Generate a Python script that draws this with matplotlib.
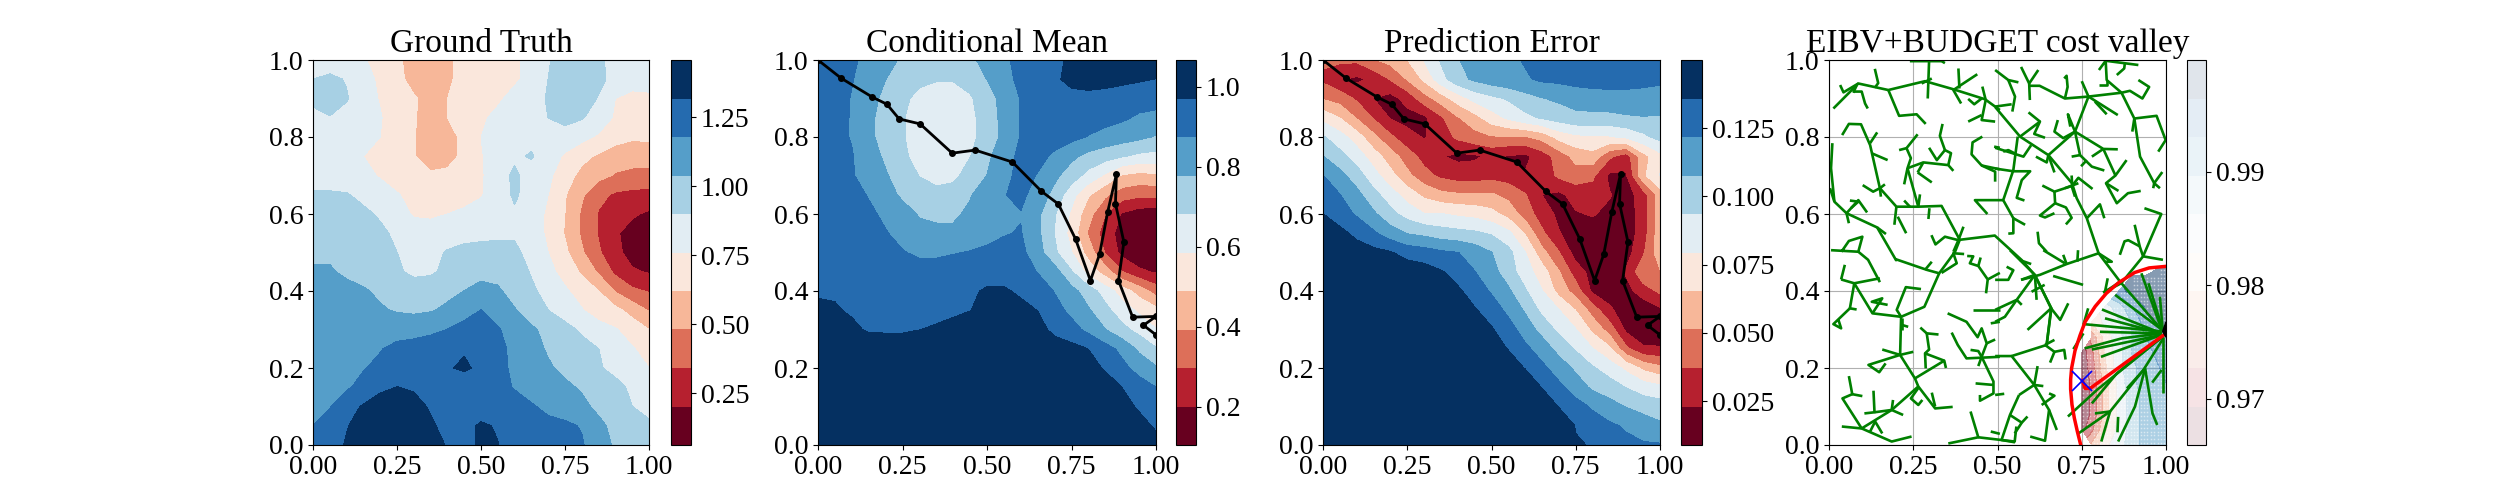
import numpy as np
import matplotlib
matplotlib.use("Agg")
import matplotlib.pyplot as plt

plt.rcParams["font.family"] = ["Liberation Serif", "DejaVu Serif"]
plt.rcParams["font.size"] = 20

# grid for the three fields, rows run from y=1.0 down to y=0.0
grid_x = np.linspace(0, 1, 21)
grid_y = np.linspace(1, 0, 21)

truth = np.array([
    [.82,.82,.81,.77,.72,.64,.58,.56,.60,.66,.68,.70,.74,.80,.89,.95,.96,.92,.86,.84,.84],
    [.90,.93,.89,.80,.74,.67,.56,.55,.60,.66,.69,.71,.74,.80,.90,.97,.98,.93,.86,.82,.80],
    [.93,.99,.91,.82,.75,.68,.64,.56,.62,.68,.70,.74,.80,.85,.91,.98,.97,.89,.76,.72,.74],
    [.86,.89,.85,.80,.77,.68,.63,.57,.62,.68,.74,.79,.83,.87,.90,.94,.91,.84,.74,.70,.70],
    [.84,.84,.83,.80,.76,.68,.63,.54,.56,.66,.76,.81,.87,.87,.85,.84,.80,.74,.68,.64,.64],
    [.83,.83,.81,.76,.72,.66,.63,.53,.56,.66,.75,.82,.88,.91,.83,.74,.66,.60,.54,.53,.56],
    [.82,.82,.81,.79,.75,.70,.67,.65,.66,.68,.74,.85,.92,.85,.79,.68,.58,.52,.47,.45,.43],
    [.92,.92,.91,.86,.81,.77,.72,.69,.69,.70,.75,.83,.92,.84,.76,.63,.50,.38,.32,.30,.30],
    [.96,.96,.95,.93,.88,.83,.74,.73,.76,.79,.81,.84,.88,.82,.74,.62,.46,.33,.28,.22,.18],
    [1.0,1.0,.99,.97,.93,.87,.85,.84,.84,.85,.86,.87,.88,.82,.74,.61,.46,.33,.22,.15,.13],
    [1.02,1.02,1.01,.99,.96,.90,.85,.86,.91,.94,.95,.95,.93,.85,.76,.65,.50,.36,.24,.15,.13],
    [1.05,1.05,1.02,1.0,.97,.92,.87,.88,.93,.97,1.0,.99,.96,.89,.80,.71,.60,.46,.31,.22,.19],
    [1.09,1.09,1.07,1.05,1.02,.98,.97,.98,1.01,1.04,1.08,1.06,.98,.92,.86,.78,.70,.62,.47,.37,.33],
    [1.13,1.13,1.11,1.09,1.05,1.03,1.02,1.03,1.06,1.13,1.18,1.12,1.05,.97,.90,.84,.77,.69,.66,.57,.47],
    [1.15,1.15,1.14,1.13,1.12,1.11,1.11,1.14,1.18,1.22,1.23,1.19,1.12,1.06,1.0,.94,.88,.82,.77,.70,.62],
    [1.15,1.15,1.15,1.14,1.17,1.22,1.25,1.27,1.29,1.31,1.27,1.22,1.14,1.10,1.02,.97,.94,.90,.84,.77,.71],
    [1.12,1.13,1.14,1.17,1.21,1.25,1.28,1.29,1.31,1.33,1.30,1.22,1.15,1.10,1.06,1.0,.95,.91,.87,.82,.76],
    [1.09,1.14,1.16,1.22,1.29,1.32,1.30,1.28,1.26,1.26,1.25,1.22,1.17,1.13,1.10,1.07,1.02,.98,.93,.88,.87],
    [1.13,1.17,1.27,1.33,1.38,1.40,1.37,1.30,1.26,1.26,1.27,1.25,1.23,1.19,1.15,1.12,1.08,1.0,.96,.90,.88],
    [1.18,1.23,1.31,1.37,1.41,1.42,1.39,1.34,1.27,1.29,1.33,1.31,1.26,1.23,1.21,1.20,1.17,1.08,.99,.91,.91],
    [1.22,1.26,1.33,1.38,1.42,1.43,1.40,1.36,1.31,1.29,1.33,1.32,1.28,1.26,1.24,1.22,1.19,1.10,1.02,.97,.96],
])

cond_mean = np.array([
    [.94,.93,.89,.85,.80,.77,.74,.72,.73,.76,.81,.86,.90,.93,.96,.98,1.0,1.0,1.0,1.0,1.0],
    [.92,.92,.88,.83,.78,.73,.70,.69,.69,.72,.78,.84,.90,.93,.96,.99,1.0,1.0,.99,.98,.97],
    [.91,.91,.87,.82,.75,.70,.66,.63,.63,.67,.74,.81,.88,.92,.93,.95,.95,.94,.93,.92,.91],
    [.90,.90,.87,.80,.74,.69,.64,.61,.61,.65,.74,.80,.88,.92,.93,.93,.92,.91,.89,.86,.85],
    [.90,.90,.87,.80,.74,.69,.64,.60,.61,.65,.73,.80,.88,.91,.91,.90,.87,.84,.82,.80,.77],
    [.90,.90,.88,.83,.76,.70,.65,.62,.63,.68,.76,.83,.90,.90,.86,.80,.75,.72,.69,.66,.65],
    [.91,.91,.88,.85,.79,.72,.68,.65,.66,.72,.78,.84,.91,.87,.80,.73,.65,.57,.48,.46,.47],
    [.92,.92,.90,.87,.82,.76,.72,.71,.72,.77,.84,.87,.90,.83,.75,.62,.50,.41,.34,.32,.32],
    [.93,.93,.92,.89,.86,.82,.77,.76,.76,.80,.85,.87,.87,.80,.69,.57,.43,.30,.19,.15,.14],
    [.94,.94,.93,.91,.88,.85,.81,.80,.80,.82,.85,.87,.88,.80,.68,.55,.38,.25,.16,.12,.12],
    [.95,.95,.94,.92,.90,.88,.86,.86,.87,.88,.89,.90,.90,.82,.70,.59,.45,.29,.17,.13,.13],
    [.96,.96,.95,.94,.93,.92,.91,.91,.92,.93,.94,.94,.93,.87,.82,.69,.55,.44,.30,.22,.19],
    [.96,.96,.96,.95,.94,.94,.93,.93,.94,.96,.98,.98,.96,.93,.87,.81,.73,.64,.54,.45,.35],
    [.99,.98,.96,.95,.95,.95,.95,.95,.96,.97,.99,1.0,.99,.97,.91,.85,.79,.71,.63,.57,.52],
    [1.03,1.02,.99,.96,.96,.96,.97,.98,.99,1.0,1.01,1.02,1.01,1.0,.95,.91,.85,.78,.71,.65,.59],
    [1.06,1.05,1.04,1.03,1.02,1.02,1.02,1.03,1.04,1.04,1.05,1.05,1.05,1.04,1.01,1.0,.97,.91,.85,.76,.69],
    [1.06,1.06,1.06,1.05,1.05,1.05,1.05,1.05,1.05,1.06,1.06,1.06,1.06,1.05,1.04,1.03,1.01,.96,.90,.84,.79],
    [1.06,1.06,1.06,1.06,1.06,1.06,1.06,1.06,1.06,1.06,1.06,1.06,1.06,1.06,1.05,1.05,1.04,1.02,.97,.92,.875],
    [1.06,1.06,1.06,1.06,1.06,1.06,1.06,1.06,1.06,1.06,1.06,1.06,1.06,1.06,1.06,1.06,1.05,1.04,1.0,.96,.91],
    [1.06,1.06,1.06,1.06,1.06,1.06,1.06,1.06,1.06,1.06,1.06,1.06,1.06,1.06,1.06,1.06,1.06,1.05,1.04,1.0,.96],
    [1.06,1.06,1.06,1.06,1.06,1.06,1.06,1.06,1.06,1.06,1.06,1.06,1.06,1.06,1.06,1.06,1.06,1.06,1.05,1.03,1.0],
])

pred_error = np.array([
    [.040,.040,.040,.050,.056,.065,.080,.095,.107,.112,.116,.118,.123,.127,.130,.130,.130,.130,.130,.130,.130],
    [.034,.025,.020,.026,.038,.052,.068,.088,.103,.110,.115,.118,.120,.124,.125,.127,.128,.128,.128,.127,.126],
    [.050,.045,.035,.023,.018,.028,.045,.058,.072,.084,.090,.095,.102,.107,.110,.113,.115,.116,.116,.115,.112],
    [.075,.065,.050,.036,.022,.018,.020,.035,.050,.060,.073,.082,.090,.095,.100,.104,.104,.104,.106,.107,.107],
    [.095,.085,.072,.055,.040,.028,.022,.030,.040,.046,.050,.050,.050,.056,.070,.076,.078,.078,.082,.090,.098],
    [.108,.098,.087,.072,.058,.044,.032,.024,.020,.021,.026,.022,.020,.030,.043,.056,.060,.040,.030,.060,.075],
    [.122,.112,.100,.085,.070,.055,.042,.034,.030,.030,.032,.030,.024,.028,.040,.045,.040,.020,.022,.062,.080],
    [.130,.122,.112,.098,.086,.073,.062,.055,.053,.053,.053,.047,.038,.023,.020,.028,.030,.024,.017,.030,.058],
    [.136,.128,.120,.110,.098,.088,.080,.080,.077,.075,.070,.060,.045,.030,.020,.022,.024,.020,.015,.030,.058],
    [.145,.140,.132,.124,.114,.107,.104,.100,.098,.096,.092,.083,.064,.040,.024,.015,.018,.017,.015,.030,.060],
    [.147,.147,.143,.140,.137,.130,.128,.124,.122,.116,.108,.098,.080,.056,.038,.017,.015,.015,.017,.035,.060],
    [.149,.149,.149,.148,.148,.145,.142,.137,.130,.122,.113,.100,.086,.072,.052,.030,.018,.015,.025,.048,.050],
    [.149,.149,.149,.149,.149,.148,.147,.143,.138,.130,.120,.110,.095,.080,.060,.045,.020,.016,.018,.030,.040],
    [.149,.149,.149,.149,.149,.149,.149,.148,.144,.137,.130,.118,.106,.090,.080,.065,.045,.026,.015,.013,.020],
    [.149,.149,.149,.149,.149,.149,.149,.149,.149,.145,.137,.128,.115,.103,.090,.080,.062,.045,.020,.010,.010],
    [.149,.149,.149,.149,.149,.149,.149,.149,.149,.149,.144,.135,.125,.115,.103,.092,.080,.068,.040,.026,.025],
    [.149,.149,.149,.149,.149,.149,.149,.149,.149,.149,.149,.145,.135,.125,.115,.105,.095,.087,.076,.062,.055],
    [.149,.149,.149,.149,.149,.149,.149,.149,.149,.149,.149,.149,.149,.135,.125,.115,.105,.100,.093,.087,.083],
    [.149,.149,.149,.149,.149,.149,.149,.149,.149,.149,.149,.149,.149,.149,.135,.127,.120,.113,.107,.102,.100],
    [.149,.149,.149,.149,.149,.149,.149,.149,.149,.149,.149,.149,.149,.149,.148,.135,.128,.124,.120,.116,.110],
    [.149,.149,.149,.149,.149,.149,.149,.149,.149,.149,.149,.149,.149,.149,.149,.137,.135,.130,.125,.123,.123],
])

nan = np.nan
valley_x = [.75, .78, .82, .86, .90, .94, .98, 1.0]
valley_y = [0, .04, .08, .12, .16, .20, .24, .28, .32, .36, .40, .44, .46]
valley = np.array([
    [nan,.977,.982,.985,.988,.991,.992,.992],
    [.968,.972,.979,.984,.988,.991,.992,.993],
    [.967,.970,.978,.984,.988,.991,.992,.993],
    [.967,.970,.978,.984,.988,.991,.992,.993],
    [.967,.970,.978,.984,.989,.991,.992,.993],
    [.967,.971,.979,.985,.989,.991,.993,.994],
    [.967,.972,.980,.985,.990,.992,.994,.995],
    [nan,.974,.981,.985,.990,.993,.995,.996],
    [nan,.980,.984,.986,.990,.995,.997,.998],
    [nan,nan,.985,.988,.993,.997,.998,.999],
    [nan,nan,nan,.995,.998,.999,.999,.999],
    [nan,nan,nan,nan,.999,.999,.999,.999],
    [nan,nan,nan,nan,nan,nan,.999,.999],
])

path_x = [0, .068, .16, .204, .24, .302, .397, .465, .575, .661, .711, .762, .806, .833, .857, .883, .88, .905, .889, .931, 1.0, .963, 1.0]
path_y = [1, .953, .904, .885, .847, .834, .758, .766, .735, .659, .626, .535, .427, .495, .605, .704, .627, .527, .427, .332, .334, .311, .286]

budget_x = [.747, .737, .728, .721, .717, .717, .72, .73, .745, .76, .79, .823, .86, .907, .95, 1.0]
budget_y = [0, .035, .07, .105, .145, .17, .20, .245, .285, .32, .36, .394, .422, .448, .46, .464]
route_x = [1.0, .775, .76, .752]
route_y = [.29, .147, .147, .168]
target_x, target_y = .75, .165
now_x = [1.0, .99, 1.0]
now_y = [.32, .295, .28]

# tree branches, (x, y) along each one
tree = [
    [(.013,.874),(.087,.939),(.176,.922),(.285,.945),(.369,.924),(.463,.898),(.507,.870)],
    [(.493,.878),(.567,.801),(.651,.753),(.721,.680),(.735,.641),(.765,.589),(.80,.498),(.864,.424),(.992,.294)],
    [(.033,.935),(.043,.916),(.087,.939)],
    [(.072,.918),(.097,.918),(.107,.887),(.115,.874)],
    [(.082,.934),(.072,.915)],
    [(.136,.977),(.146,.94),(.136,.928)],
    [(.176,.922),(.208,.855),(.26,.859),(.287,.834)],
    [(.297,.997),(.293,.90)],
    [(.24,.997),(.334,.997),(.344,.992)],
    [(.275,.939),(.305,.952)],
    [(.384,.978),(.387,.926)],
    [(.44,.963),(.369,.922),(.392,.887)],
    [(.455,.931),(.465,.896),(.453,.844),(.493,.84)],
    [(.453,.857),(.413,.84)],
    [(.413,.899),(.431,.885),(.453,.90)],
    [(.493,.974),(.532,.948),(.562,.942)],
    [(.532,.948),(.552,.905),(.544,.866)],
    [(.493,.879),(.542,.885)],
    [(.039,.805),(.059,.834),(.095,.833),(.122,.779),(.151,.667),(.2,.619),(.265,.619),(.334,.621),(.388,.533),(.492,.544),(.571,.481),(.61,.442),(.66,.355),(.645,.256)],
    [(.122,.784),(.143,.812)],
    [(.126,.758),(.174,.74)],
    [(.10,.675),(.131,.658),(.151,.667),(.166,.677)],
    [(.151,.667),(.154,.645)],
    [(.223,.677),(.233,.719),(.243,.745),(.23,.771),(.208,.766)],
    [(.23,.771),(.263,.807)],
    [(.233,.719),(.28,.734),(.354,.727),(.369,.712)],
    [(.263,.708),(.28,.734)],
    [(.263,.708),(.305,.682)],
    [(.233,.719),(.265,.619)],
    [(.27,.651),(.265,.619)],
    [(.223,.635),(.24,.619)],
    [(.354,.727),(.362,.758),(.344,.766),(.32,.74),(.297,.772)],
    [(.344,.766),(.329,.803),(.337,.834)],
    [(.2,.619),(.194,.572)],
    [(.204,.593),(.229,.55)],
    [(.01,.784),(.006,.719),(.016,.632),(.052,.602),(.143,.565),(.199,.48),(.20,.482),(.29,.455),(.327,.446),(.374,.502),(.388,.533)],
    [(.003,.667),(.016,.632)],
    [(.052,.602),(.059,.576)],
    [(.052,.602),(.087,.636),(.113,.604)],
    [(.065,.615),(.087,.632),(.062,.635)],
    [(.143,.565),(.169,.548)],
    [(.298,.615),(.295,.587)],
    [(.006,.506),(.087,.502),(.099,.541),(.059,.53),(.037,.502)],
    [(.087,.502),(.116,.481),(.151,.423)],
    [(.075,.42),(.151,.433)],
    [(.036,.43),(.047,.468)],
    [(.036,.43),(.075,.42),(.129,.342),(.214,.333),(.283,.359),(.327,.446)],
    [(.285,.455),(.305,.476)],
    [(.334,.447),(.379,.472),(.369,.498),(.401,.496)],
    [(.214,.333),(.201,.351),(.228,.41),(.273,.405)],
    [(.214,.333),(.211,.234),(.158,.248)],
    [(.211,.234),(.117,.208),(.149,.189),(.168,.212)],
    [(.211,.234),(.25,.242)],
    [(.216,.312),(.235,.307)],
    [(.218,.33),(.218,.299)],
    [(.129,.342),(.158,.381),(.127,.372),(.174,.364)],
    [(.075,.42),(.062,.355),(.082,.352)],
    [(.062,.355),(.013,.314),(.036,.303),(.028,.325)],
    [(.211,.234),(.255,.173),(.265,.152),(.315,.095),(.367,.099)],
    [(.255,.173),(.342,.219),(.347,.2)],
    [(.287,.199),(.285,.238),(.342,.219)],
    [(.285,.238),(.297,.248),(.29,.29),(.325,.287)],
    [(.29,.29),(.271,.305)],
    [(.265,.152),(.186,.091),(.097,.043),(.186,.009),(.245,.022)],
    [(.097,.043),(.038,.048)],
    [(.097,.043),(.04,.121),(.069,.132),(.059,.179)],
    [(.069,.132),(.099,.127)],
    [(.132,.141),(.135,.085),(.105,.082)],
    [(.135,.085),(.186,.091),(.22,.078)],
    [(.186,.091),(.19,.117)],
    [(.122,.035),(.137,.061),(.158,.03)],
    [(.265,.148),(.243,.121),(.265,.104),(.277,.117)],
    [(.305,.136),(.315,.1)],
    [(.354,.004),(.443,.02),(.42,.087)],
    [(.443,.02),(.551,.009),(.556,.048)],
    [(.352,.342),(.408,.32),(.441,.28),(.453,.303),(.468,.264),(.453,.229),(.443,.205)],
    [(.364,.292),(.382,.26),(.408,.225),(.507,.229)],
    [(.453,.229),(.488,.165),(.488,.134),(.448,.115),(.448,.13)],
    [(.435,.16),(.488,.156)],
    [(.42,.247),(.443,.244),(.453,.229)],
    [(.468,.264),(.493,.274)],
    [(.41,.491),(.428,.49),(.418,.472),(.443,.465),(.471,.43),(.466,.394)],
    [(.45,.487),(.443,.465)],
    [(.471,.43),(.507,.447)],
    [(.428,.35),(.507,.35)],
    [(.48,.316),(.507,.32)],
    [(.48,.035),(.507,.029)],
    [(.57,.982),(.594,.939),(.621,.974)],
    [(.594,.939),(.596,.896)],
    [(.594,.933),(.625,.933),(.7,.90),(.77,.905),(.868,.915),(.893,.92),(.93,.90),(.95,.93),(.918,.948)],
    [(.7,.90),(.708,.93),(.705,.959),(.698,.952)],
    [(.868,.915),(.824,.948),(.821,.998),(.801,.974)],
    [(.821,.998),(.918,.987)],
    [(.878,.992),(.876,.978),(.854,.961)],
    [(.824,.948),(.824,.935),(.801,.935)],
    [(.868,.915),(.906,.848),(.972,.855),(.999,.792),(.977,.762)],
    [(.906,.848),(.90,.814)],
    [(.906,.848),(.923,.749),(.965,.68),(.989,.709)],
    [(.965,.68),(.982,.667)],
    [(.965,.68),(.962,.667)],
    [(.77,.905),(.75,.945)],
    [(.77,.905),(.857,.857)],
    [(.824,.859),(.789,.892)],
    [(.77,.905),(.73,.814),(.651,.753)],
    [(.73,.814),(.709,.859),(.716,.827)],
    [(.73,.814),(.695,.797),(.669,.814),(.679,.844)],
    [(.73,.814),(.745,.753),(.78,.723),(.817,.713)],
    [(.745,.753),(.72,.749)],
    [(.765,.74),(.748,.724)],
    [(.73,.814),(.814,.769),(.857,.768)],
    [(.814,.769),(.78,.749)],
    [(.814,.769),(.85,.70),(.883,.74)],
    [(.85,.70),(.822,.68),(.854,.628),(.887,.654),(.925,.66)],
    [(.822,.68),(.859,.66)],
    [(.567,.801),(.626,.84),(.609,.808),(.641,.798)],
    [(.626,.84),(.592,.864)],
    [(.651,.753),(.669,.708)],
    [(.614,.749),(.646,.734),(.651,.753)],
    [(.493,.772),(.577,.749),(.60,.779)],
    [(.56,.801),(.547,.714),(.517,.636),(.547,.589),(.547,.55),(.532,.549)],
    [(.547,.589),(.582,.572)],
    [(.493,.718),(.547,.711),(.597,.711),(.572,.688),(.557,.642),(.58,.635)],
    [(.517,.636),(.433,.636),(.47,.60)],
    [(.455,.801),(.426,.786),(.423,.755),(.453,.726),(.493,.71),(.493,.684)],
    [(.453,.726),(.507,.716)],
    [(.49,.775),(.507,.772)],
    [(.517,.762),(.532,.766),(.552,.757)],
    [(.304,.545),(.316,.521),(.344,.541),(.384,.532),(.399,.567)],
    [(.384,.532),(.369,.502)],
    [(.721,.673),(.669,.658),(.633,.674)],
    [(.669,.658),(.671,.628),(.626,.596),(.641,.591),(.669,.602)],
    [(.671,.628),(.703,.617),(.72,.59),(.703,.573)],
    [(.721,.673),(.74,.694),(.782,.665)],
    [(.72,.70),(.722,.667),(.73,.645)],
    [(.70,.667),(.74,.68)],
    [(.765,.589),(.804,.625),(.817,.589)],
    [(.619,.554),(.623,.524),(.646,.502)],
    [(.936,.615),(.986,.60),(.932,.49),(.867,.42),(.813,.396)],
    [(.932,.49),(.991,.481)],
    [(.907,.572),(.922,.516),(.932,.49)],
    [(.922,.516),(.888,.532),(.877,.529),(.863,.494)],
    [(.80,.498),(.705,.47),(.626,.442),(.57,.429)],
    [(.705,.47),(.695,.494)],
    [(.739,.506),(.737,.476)],
    [(.636,.506),(.70,.472)],
    [(.80,.498),(.839,.476),(.819,.476)],
    [(.611,.442),(.659,.355),(.646,.26),(.542,.231)],
    [(.659,.355),(.686,.325),(.71,.368)],
    [(.659,.355),(.589,.299)],
    [(.611,.442),(.616,.377)],
    [(.601,.398),(.64,.416)],
    [(.665,.439),(.754,.416)],
    [(.611,.442),(.557,.377),(.493,.351)],
    [(.557,.377),(.572,.364)],
    [(.557,.377),(.522,.333),(.493,.32)],
    [(.527,.463),(.547,.454),(.532,.429),(.493,.429)],
    [(.537,.506),(.567,.48),(.611,.442)],
    [(.567,.48),(.60,.47)],
    [(.57,.429),(.611,.442)],
    [(.641,.26),(.669,.273)],
    [(.641,.26),(.669,.242),(.656,.214)],
    [(.669,.242),(.698,.247),(.702,.222)],
    [(.493,.231),(.542,.231),(.609,.156),(.619,.205)],
    [(.609,.156),(.636,.153)],
    [(.609,.156),(.564,.13)],
    [(.609,.156),(.653,.091),(.641,.011),(.597,.022)],
    [(.653,.091),(.676,.039)],
    [(.653,.134),(.669,.128),(.631,.104)],
    [(.493,.13),(.52,.133)],
    [(.564,.13),(.537,.078),(.512,.013),(.552,.007)],
    [(.537,.078),(.572,.058),(.551,.03)],
    [(.572,.058),(.589,.074)],
    [(.864,.424),(.819,.398),(.827,.433)],
    # fan out of the current position
    [(.927,.446),(.987,.30)],
    [(.948,.42),(.99,.30)],
    [(.982,.385),(.99,.30)],
    [(.849,.39),(.987,.30)],
    [(.81,.352),(.987,.29)],
    [(.819,.329),(.987,.29)],
    [(.755,.314),(.987,.295)],
    [(.804,.294),(.987,.29)],
    [(.759,.251),(.869,.277),(.987,.29)],
    [(.807,.229),(.987,.286)],
    [(.78,.248),(.987,.286)],
    [(.78,.108),(.854,.186),(.992,.283)],
    [(.709,.074),(.795,.143),(.992,.283)],
    [(.74,.03),(.834,.087),(.933,.195),(.992,.277)],
    [(.789,.082),(.834,.087),(.808,.009)],
    [(.858,.009),(.908,.10),(.938,.199)],
    [(.938,.199),(.96,.082),(.974,.052)],
    [(.858,.073),(.856,.033)],
    [(.992,.281),(.992,.134)],
    [(.987,.195),(.959,.162)],
    [(.938,.199),(.884,.147)],
    [(.725,.249),(.755,.29)],
    [(.755,.312),(.769,.355)],
]

titles = ["Ground Truth", "Conditional Mean", "Prediction Error", "EIBV+BUDGET cost valley"]
x_ticks = [0, .25, .5, .75, 1]
y_ticks = [0, .2, .4, .6, .8, 1]

truth_levels = np.linspace(.063, 1.457, 11)
mean_levels = np.linspace(.105, 1.0675, 11)
error_levels = np.linspace(.009, .1499, 11)
valley_levels = np.linspace(.96595, .99984, 11)

truth_ticks = [.25, .5, .75, 1, 1.25]
mean_ticks = [.2, .4, .6, .8, 1]
error_ticks = [.025, .05, .075, .1, .125]
valley_ticks = [.97, .98, .99]

W, H = 2500, 500
fig = plt.figure(figsize=(25, 5), dpi=100)
cmap = plt.get_cmap("RdBu", 10)

axes_px = [(313, 649), (818, 1156), (1323, 1660), (1829, 2166)]
cbar_px = [(671, 691), (1176, 1196), (1681, 1702), (2187, 2206)]
axs, caxs = [], []
for (a, b), (c, d) in zip(axes_px, cbar_px):
    axs.append(fig.add_axes([a / W, 55 / H, (b - a) / W, 385 / H]))
    caxs.append(fig.add_axes([c / W, 55 / H, (d - c) / W, 385 / H]))

cs1 = axs[0].contourf(grid_x, grid_y, truth, levels=truth_levels, cmap=cmap)
cs2 = axs[1].contourf(grid_x, grid_y, np.clip(cond_mean, .106, 1.067), levels=mean_levels, cmap=cmap)
cs3 = axs[2].contourf(grid_x, grid_y, np.clip(pred_error, .01, .1495), levels=error_levels, cmap=cmap)
for _ in range(5):
    cs4 = axs[3].contourf(valley_x, valley_y, valley, levels=valley_levels, cmap=cmap, alpha=.12)

# the pale speckle left in the cost field
vx, vy = np.meshgrid(np.arange(.005, 1, .01), np.arange(.005, .47, .01))
ix = np.searchsorted(valley_x, vx).clip(1, len(valley_x) - 1)
iy = np.searchsorted(valley_y, vy).clip(1, len(valley_y) - 1)
inside = (np.isfinite(valley[iy, ix]) & np.isfinite(valley[iy - 1, ix]) & np.isfinite(valley[iy, ix - 1])
          & np.isfinite(valley[iy - 1, ix - 1]) & (vx > valley_x[0]))
axs[3].plot(vx[inside], vy[inside], ls="", marker="s", ms=1.1, mew=0, color="white", alpha=.55)

axs[3].grid(True)
axs[3].set_axisbelow(True)
for branch in tree:
    bx, by = zip(*branch)
    axs[3].plot(bx, by, color="green", lw=1.9, solid_capstyle="butt")
axs[3].plot(budget_x, budget_y, color="red", lw=2.5)
axs[3].plot(route_x, route_y, color="red", lw=2.5)
axs[3].fill(now_x, now_y, color="black", lw=1, zorder=5)
axs[3].plot([target_x], [target_y], marker="x", color="blue", ms=14, mew=1.2, ls="")

for ax in axs[1:3]:
    ax.plot(path_x, path_y, color="black", lw=2, marker="o", ms=4)

for ax, cax, cs, ticks, title in zip(axs, caxs, [cs1, cs2, cs3, cs4],
                                     [truth_ticks, mean_ticks, error_ticks, valley_ticks], titles):
    ax.set_xlim(0, 1)
    ax.set_ylim(0, 1)
    ax.set_xticks(x_ticks)
    ax.set_yticks(y_ticks)
    ax.set_xticklabels(["0.00", "0.25", "0.50", "0.75", "1.00"])
    ax.set_yticklabels(["0.0", "0.2", "0.4", "0.6", "0.8", "1.0"])
    ax.set_title(title, fontsize=24)
    cb = fig.colorbar(cs, cax=cax)
    cb.set_ticks(ticks)

fig.savefig("out.png", dpi=100)
